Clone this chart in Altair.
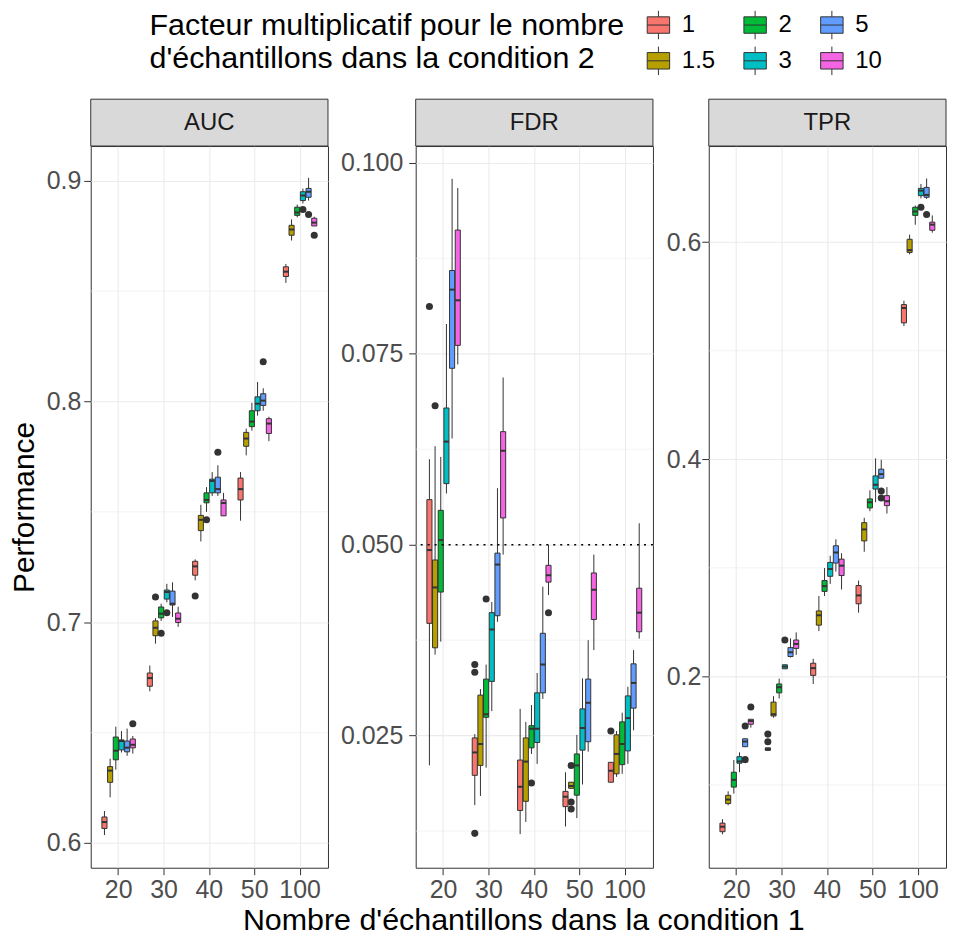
import altair as alt
import pandas as pd

N_VALUES = ["20", "30", "40", "50", "100"]
FACTORS = ["1", "1.5", "2", "3", "5", "10"]
COLORS = {"1": "#F8766D", "1.5": "#B79F00", "2": "#00BA38",
          "3": "#00BFC4", "5": "#619CFF", "10": "#F564E3"}

# ---------------- AUC (values per factor, over n = 20, 30, 40, 50, 100)
AUC_LO = {"1": [0.6036, 0.6687, 0.7190, 0.7460, 0.8537],
          "1.5": [0.6207, 0.6903, 0.7366, 0.7756, 0.8729],
          "2": [0.6332, 0.7006, 0.7500, 0.7868, 0.8834],
          "3": [0.6410, 0.7090, 0.7572, 0.7936, 0.8897],
          "5": [0.6395, 0.7024, 0.7572, 0.7958, 0.8910],
          "10": [0.6405, 0.6979, 0.7482, 0.7820, 0.8795]}
AUC_Q1 = {"1": [0.6066, 0.6710, 0.7213, 0.7554, 0.8566],
          "1.5": [0.6275, 0.6939, 0.7415, 0.7797, 0.8753],
          "2": [0.6377, 0.7020, 0.7541, 0.7886, 0.8843],
          "3": [0.6422, 0.7105, 0.7586, 0.7958, 0.8910],
          "5": [0.6413, 0.7078, 0.7586, 0.7982, 0.8925],
          "10": [0.6431, 0.6999, 0.7482, 0.7855, 0.8795]}
AUC_MED = {"1": [0.6095, 0.6747, 0.7253, 0.7603, 0.8588],
           "1.5": [0.6328, 0.6975, 0.7464, 0.7832, 0.8779],
           "2": [0.6418, 0.7039, 0.7554, 0.7909, 0.8856],
           "3": [0.6462, 0.7137, 0.7640, 0.7990, 0.8933],
           "5": [0.6432, 0.7084, 0.7603, 0.8004, 0.8950],
           "10": [0.6445, 0.7016, 0.7540, 0.7900, 0.8810]}
AUC_Q3 = {"1": [0.6118, 0.6770, 0.7276, 0.7653, 0.8610],
          "1.5": [0.6346, 0.7006, 0.7484, 0.7860, 0.8798],
          "2": [0.6480, 0.7069, 0.7586, 0.7958, 0.8880],
          "3": [0.6467, 0.7146, 0.7648, 0.8021, 0.8950],
          "5": [0.6462, 0.7141, 0.7657, 0.8035, 0.8965],
          "10": [0.6471, 0.7042, 0.7554, 0.7922, 0.8830]}
AUC_HI = {"1": [0.6145, 0.6804, 0.7285, 0.7680, 0.8623],
          "1.5": [0.6382, 0.7019, 0.7532, 0.7877, 0.8825],
          "2": [0.6527, 0.7084, 0.7612, 0.7994, 0.8892],
          "3": [0.6507, 0.7174, 0.7680, 0.8088, 0.8964],
          "5": [0.6518, 0.7181, 0.7711, 0.8060, 0.9013],
          "10": [0.6485, 0.7070, 0.7586, 0.7931, 0.8837]}
AUC_OUT_FACTOR = ["10", "1.5", "2", "3", "1", "2", "5", "5", "3", "5", "10"]
AUC_OUT_N = ["20", "30", "30", "30", "40", "40", "40", "50", "100", "100", "100"]
AUC_OUT_VAL = [0.654, 0.7114, 0.695, 0.7043, 0.7119, 0.7464, 0.777, 0.818, 0.887, 0.8847, 0.8753]

# ---------------- FDR
FDR_LO = {"1": [0.0211, 0.0159, 0.0121, 0.0131, 0.0189],
          "1.5": [0.0356, 0.0171, 0.0137, 0.0181, 0.0196],
          "2": [0.0373, 0.0208, 0.0226, 0.0142, 0.0200],
          "3": [0.0567, 0.0282, 0.0213, 0.0186, 0.0213],
          "5": [0.0639, 0.0399, 0.0298, 0.0229, 0.0257],
          "10": [0.0736, 0.0487, 0.0434, 0.0362, 0.0377]}
FDR_Q1 = {"1": [0.0397, 0.0198, 0.0152, 0.0157, 0.0189],
          "1.5": [0.0365, 0.0211, 0.0164, 0.0181, 0.0200],
          "2": [0.0438, 0.0274, 0.0234, 0.0172, 0.0212],
          "3": [0.0580, 0.0321, 0.0241, 0.0231, 0.0230],
          "5": [0.0731, 0.0407, 0.0306, 0.0242, 0.0286],
          "10": [0.0761, 0.0535, 0.0451, 0.0402, 0.0386]}
FDR_MED = {"1": [0.0493, 0.0228, 0.0183, 0.0170, 0.0204],
           "1.5": [0.0444, 0.0239, 0.0216, 0.0184, 0.0226],
           "2": [0.0506, 0.0278, 0.0259, 0.0211, 0.0239],
           "3": [0.0635, 0.0389, 0.0259, 0.0260, 0.0273],
           "5": [0.0834, 0.0474, 0.0343, 0.0293, 0.0319],
           "10": [0.0820, 0.0623, 0.0460, 0.0441, 0.0411]}
FDR_Q3 = {"1": [0.0559, 0.0247, 0.0218, 0.0177, 0.0215],
          "1.5": [0.0480, 0.0303, 0.0247, 0.0189, 0.0251],
          "2": [0.0545, 0.0324, 0.0263, 0.0226, 0.0268],
          "3": [0.0679, 0.0411, 0.0306, 0.0285, 0.0302],
          "5": [0.0859, 0.0489, 0.0384, 0.0324, 0.0344],
          "10": [0.0912, 0.0648, 0.0473, 0.0463, 0.0443]}
FDR_HI = {"1": [0.0612, 0.0252, 0.0285, 0.0202, 0.0215],
          "1.5": [0.0629, 0.0311, 0.0268, 0.0189, 0.0256],
          "2": [0.0615, 0.0343, 0.0290, 0.0251, 0.0280],
          "3": [0.0789, 0.0425, 0.0332, 0.0325, 0.0314],
          "5": [0.0979, 0.0574, 0.0445, 0.0375, 0.0362],
          "10": [0.0967, 0.0719, 0.0500, 0.0487, 0.0528]}
FDR_OUT_FACTOR = ["1", "1.5", "1", "1", "1", "2", "2", "10", "1.5", "1.5", "1.5", "1"]
FDR_OUT_N = ["20", "20", "30", "30", "30", "30", "40", "40", "50", "50", "50", "100"]
FDR_OUT_VAL = [0.0812, 0.0682, 0.0343, 0.0333, 0.0122, 0.0429, 0.0188, 0.0411,
               0.0211, 0.0163, 0.0154, 0.0256]
FDR_THRESHOLD = 0.05

# ---------------- TPR
TPR_LO = {"1": [0.0545, 0.1318, 0.1930, 0.2587, 0.5227],
          "1.5": [0.0813, 0.1620, 0.2417, 0.3148, 0.5888],
          "2": [0.0920, 0.1796, 0.2740, 0.3522, 0.6161],
          "3": [0.1117, 0.2070, 0.2852, 0.3604, 0.6404],
          "5": [0.1352, 0.2174, 0.2965, 0.3826, 0.6399],
          "10": [0.1528, 0.2198, 0.2801, 0.3500, 0.6088]}
TPR_Q1 = {"1": [0.0569, 0.1318, 0.2009, 0.2669, 0.5257],
          "1.5": [0.0828, 0.1635, 0.2472, 0.3248, 0.5906],
          "2": [0.0980, 0.1848, 0.2783, 0.3552, 0.6247],
          "3": [0.1200, 0.2070, 0.2922, 0.3726, 0.6429],
          "5": [0.1352, 0.2183, 0.3044, 0.3826, 0.6414],
          "10": [0.1559, 0.2258, 0.2929, 0.3573, 0.6110]}
TPR_MED = {"1": [0.0615, 0.1330, 0.2076, 0.2746, 0.5394],
           "1.5": [0.0865, 0.1650, 0.2563, 0.3354, 0.5927],
           "2": [0.1047, 0.1900, 0.2831, 0.3604, 0.6283],
           "3": [0.1217, 0.2090, 0.2989, 0.3765, 0.6475],
           "5": [0.1400, 0.2222, 0.3142, 0.3863, 0.6436],
           "10": [0.1589, 0.2299, 0.3020, 0.3614, 0.6162]}
TPR_Q3 = {"1": [0.0648, 0.1342, 0.2121, 0.2837, 0.5425],
          "1.5": [0.0904, 0.1763, 0.2603, 0.3416, 0.6027],
          "2": [0.1117, 0.1930, 0.2883, 0.3635, 0.6322],
          "3": [0.1260, 0.2107, 0.3050, 0.3847, 0.6496],
          "5": [0.1425, 0.2265, 0.3203, 0.3909, 0.6505],
          "10": [0.1605, 0.2335, 0.3080, 0.3665, 0.6185]}
TPR_HI = {"1": [0.0685, 0.1342, 0.2162, 0.2883, 0.5461],
          "1.5": [0.0941, 0.1817, 0.2740, 0.3461, 0.6070],
          "2": [0.1230, 0.1979, 0.2998, 0.3714, 0.6338],
          "3": [0.1300, 0.2107, 0.3111, 0.4009, 0.6536],
          "5": [0.1425, 0.2350, 0.3263, 0.3995, 0.6587],
          "10": [0.1605, 0.2405, 0.3135, 0.3744, 0.6247]}
TPR_OUT_FACTOR = ["5", "5", "10", "1", "1", "3", "5", "5", "3", "5"]
TPR_OUT_N = ["20", "20", "20", "30", "30", "30", "50", "50", "100", "100"]
TPR_OUT_VAL = [0.1233, 0.1543, 0.1717, 0.1468, 0.1397, 0.2335, 0.3708, 0.3644, 0.6322, 0.6256]

# axis ticks / gridlines
AUC_TICKS = [0.6, 0.7, 0.8, 0.9]
AUC_MINOR = [0.65, 0.75, 0.85]
FDR_TICKS = [0.025, 0.05, 0.075, 0.1]
FDR_MINOR = [0.0125, 0.0375, 0.0625, 0.0875]
TPR_TICKS = [0.2, 0.4, 0.6]
TPR_MINOR = [0.1, 0.3, 0.5]

W, H = 238, 724
STRIP_H = 47
FONT = "Liberation Sans"
LEGEND_TITLE = ["Facteur multiplicatif pour le nombre", "d'échantillons dans la condition 2"]
X_TITLE = "Nombre d'échantillons dans la condition 1"
BOX_KEY = "M-0.75,-0.55H0.75V0.55H-0.75Z M-0.75,0H0.75 M0,-0.55V-0.95 M0,0.55V0.95"


def stats_frame(lo, q1, med, q3, hi):
    rows = []
    for f in FACTORS:
        for i, n in enumerate(N_VALUES):
            rows.append({"n": n, "factor": f, "lo": lo[f][i], "q1": q1[f][i],
                         "med": med[f][i], "q3": q3[f][i], "hi": hi[f][i]})
    return pd.DataFrame(rows)


def panel(df, out_df, domain, ticks, minor, fmt, label, label_pad, y_title=None, threshold=None):
    yscale = alt.Scale(domain=domain, nice=False, zero=False)
    yaxis = alt.Axis(values=ticks, format=fmt, grid=True, labelPadding=label_pad)
    xaxis = alt.Axis(labelAngle=0, bandPosition=0.5, grid=True)
    xenc = alt.X("n:N", scale=alt.Scale(domain=N_VALUES, paddingInner=0.25, paddingOuter=0.24),
                 axis=xaxis, title=None)
    xoff = alt.XOffset("factor:N", scale=alt.Scale(domain=FACTORS, paddingInner=0.1, paddingOuter=0.05))

    def yenc(field):
        return alt.Y(field, scale=yscale, axis=yaxis, title=y_title)

    minor_layer = alt.Chart(pd.DataFrame({"v": minor})).mark_rule(
        color="#EBEBEB", strokeWidth=0.6).encode(y=yenc("v:Q"))
    base = alt.Chart(df)
    whisk = base.mark_rule(color="#333333", strokeWidth=1).encode(
        x=xenc, xOffset=xoff, y=yenc("lo:Q"), y2="hi:Q")
    box = base.mark_bar(stroke="#333333", strokeWidth=1).encode(
        x=xenc, xOffset=xoff, y=yenc("q1:Q"), y2="q3:Q",
        fill=alt.Fill("factor:N",
                      scale=alt.Scale(domain=FACTORS, range=[COLORS[f] for f in FACTORS]),
                      legend=alt.Legend(title=LEGEND_TITLE, orient="none", legendX=59, legendY=-137,
                                        columns=3, titleOrient="left", symbolType=BOX_KEY,
                                        symbolSize=900, symbolStrokeColor="#333333",
                                        symbolStrokeWidth=1, labelOffset=8, columnPadding=24,
                                        rowPadding=3, titleLimit=700)))
    med = base.mark_tick(color="#333333", thickness=2, size=5.2, opacity=1).encode(
        x=xenc, xOffset=xoff, y=yenc("med:Q"))
    outl = alt.Chart(out_df).mark_circle(size=50, color="#333333", opacity=1).encode(
        x=xenc, xOffset=xoff, y=yenc("value:Q"))
    layers = [minor_layer, whisk, box, med, outl]
    if threshold is not None:
        layers.append(alt.Chart(pd.DataFrame({"t": [threshold]})).mark_rule(
            color="black", strokeDash=[2, 5], strokeWidth=1.6).encode(y=yenc("t:Q")))
    lab = pd.DataFrame({"label": [label]})
    strip = alt.Chart(lab).mark_rect(fill="#D9D9D9", stroke="#333333", strokeWidth=1).encode(
        x=alt.value(0), x2=alt.value(W), y=alt.value(-STRIP_H), y2=alt.value(0))
    strip_text = alt.Chart(lab).mark_text(fontSize=24, color="#1A1A1A", font=FONT,
                                          baseline="middle", align="center").encode(
        text="label:N", x=alt.value(W / 2), y=alt.value(-STRIP_H / 2))
    layers += [strip, strip_text]
    return alt.layer(*layers).properties(width=W, height=H)


def out_frame(fs, ns, vs):
    return pd.DataFrame({"factor": fs, "n": ns, "value": vs})


auc = panel(stats_frame(AUC_LO, AUC_Q1, AUC_MED, AUC_Q3, AUC_HI),
            out_frame(AUC_OUT_FACTOR, AUC_OUT_N, AUC_OUT_VAL),
            [0.5888, 0.9157], AUC_TICKS, AUC_MINOR, ".1f", "AUC", 3, y_title="Performance")
fdr = panel(stats_frame(FDR_LO, FDR_Q1, FDR_MED, FDR_Q3, FDR_HI),
            out_frame(FDR_OUT_FACTOR, FDR_OUT_N, FDR_OUT_VAL),
            [0.0077, 0.1022], FDR_TICKS, FDR_MINOR, ".3f", "FDR", 6, threshold=FDR_THRESHOLD)
tpr = panel(stats_frame(TPR_LO, TPR_Q1, TPR_MED, TPR_Q3, TPR_HI),
            out_frame(TPR_OUT_FACTOR, TPR_OUT_N, TPR_OUT_VAL),
            [0.0237, 0.6886], TPR_TICKS, TPR_MINOR, ".1f", "TPR", 1)

chart = alt.hconcat(
    auc, fdr, tpr, spacing=10,
    title=alt.TitleParams(text=X_TITLE, orient="bottom", anchor="middle", dx=46, offset=3,
                          fontSize=30.5, fontWeight="normal", font=FONT, color="black")
).resolve_scale(
    y="independent", x="independent", xOffset="independent"
).properties(
    padding={"left": 0, "top": 0, "right": 0, "bottom": 0}
).configure(font=FONT, background="white").configure_view(
    stroke="#333333", strokeWidth=1
).configure_axis(
    labelFontSize=25, labelColor="#4D4D4D", labelFont=FONT, labelPadding=3,
    tickColor="#333333", tickSize=7, tickWidth=1, domain=False,
    gridColor="#EBEBEB", gridWidth=1.1,
    titleFontSize=30, titleFontWeight="normal", titleColor="black", titleFont=FONT,
    titlePadding=7
).configure_legend(
    titleFontSize=30.5, titleFontWeight="normal", titleColor="black", titleFont=FONT,
    titleLineHeight=33, titlePadding=18, labelFontSize=24, labelColor="black",
    labelFont=FONT
)

chart.save("out.html", embed_options={"renderer": "svg", "actions": False})
